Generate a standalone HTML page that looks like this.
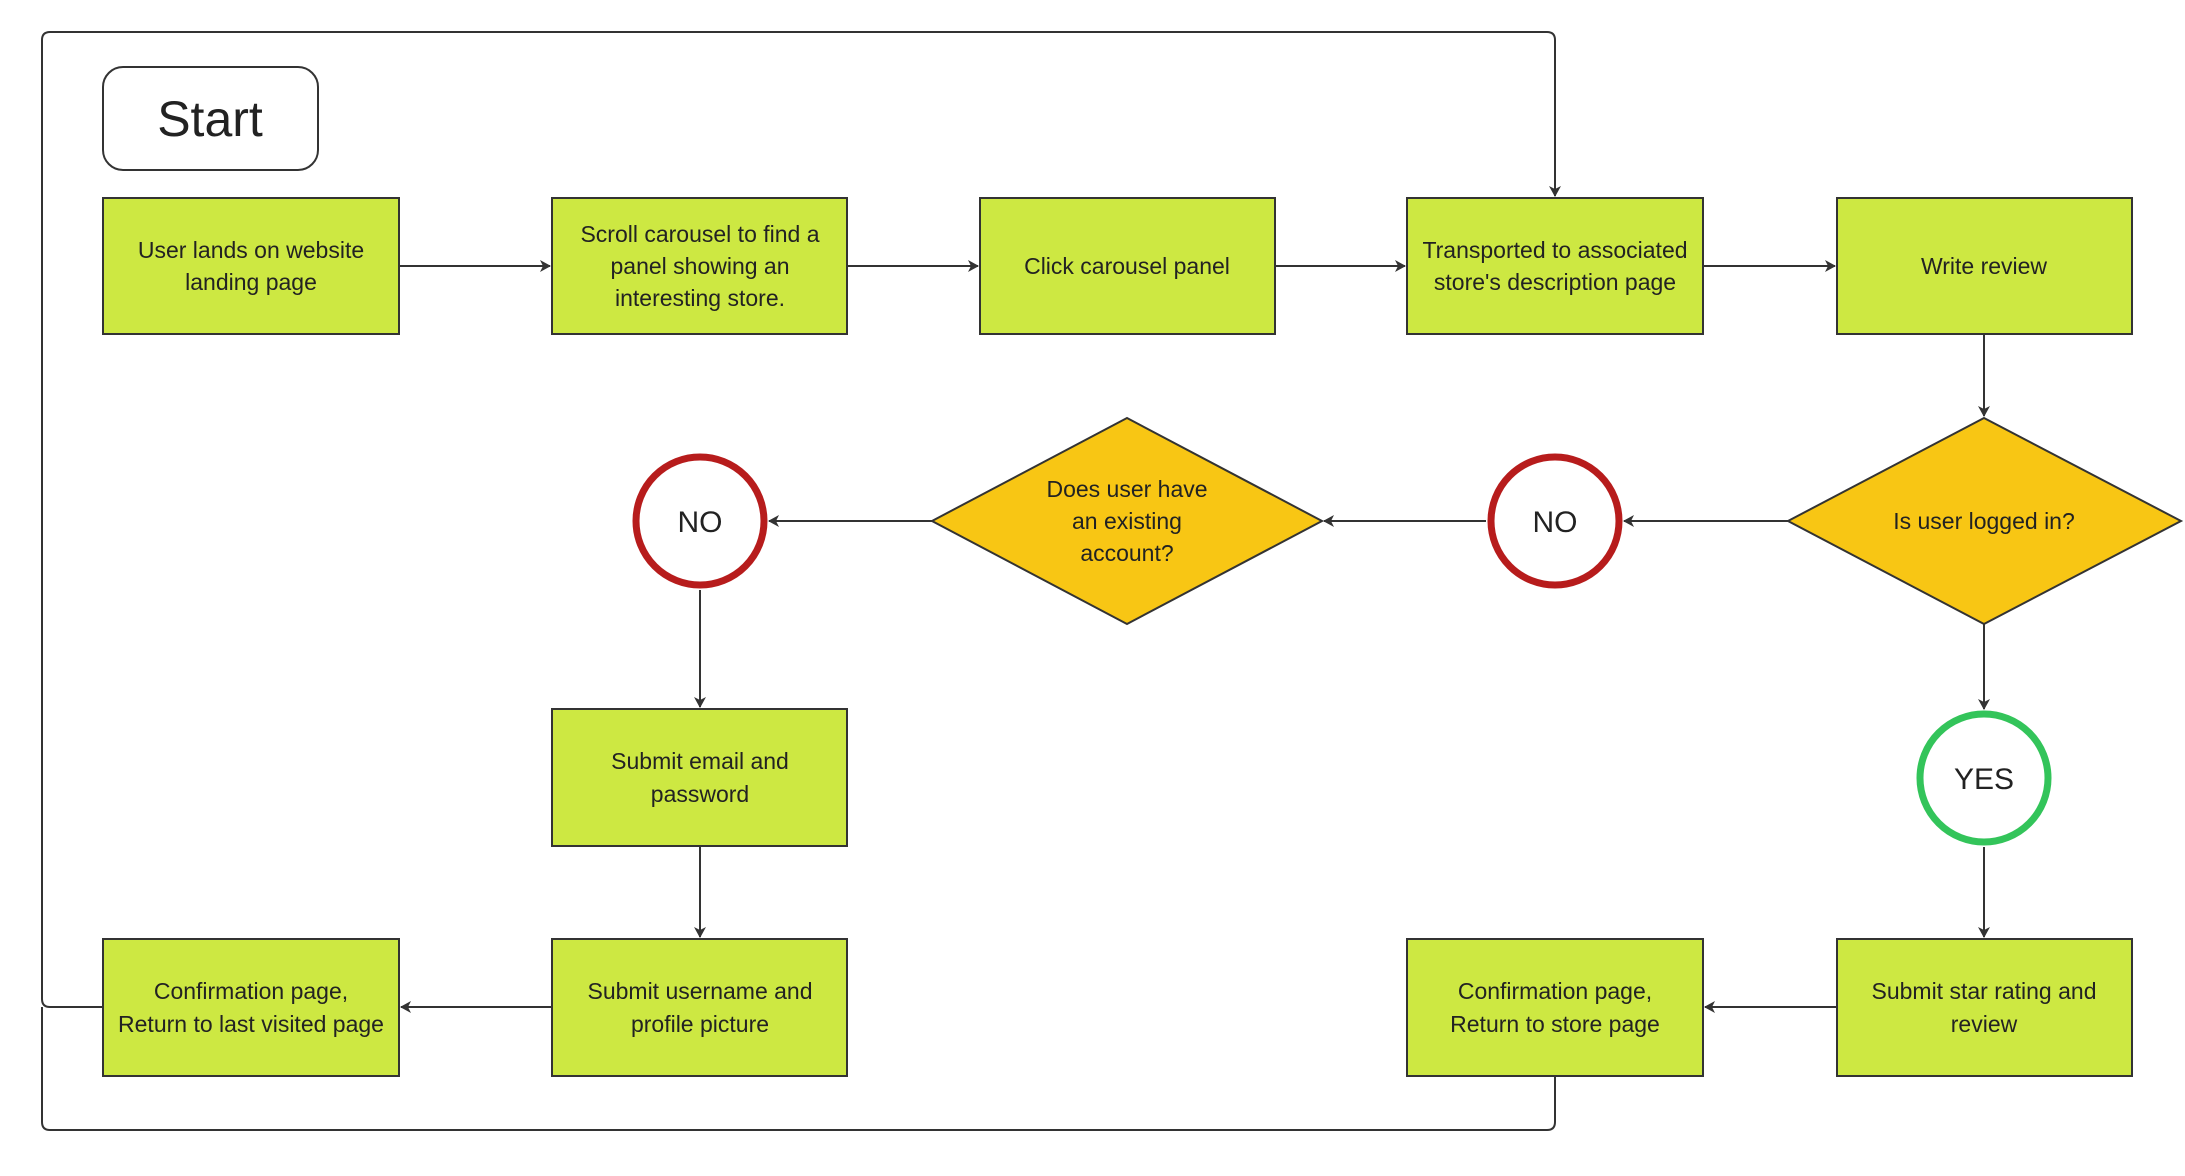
<!DOCTYPE html>
<html><head><meta charset="utf-8"><style>
body{margin:0;background:#fff}
svg text{font-family:"Liberation Sans",sans-serif;fill:#222}
</style></head><body>
<svg width="2185" height="1171" viewBox="0 0 2185 1171" xmlns="http://www.w3.org/2000/svg">
<defs><marker id="a" markerWidth="12" markerHeight="12" refX="10" refY="6" orient="auto" markerUnits="userSpaceOnUse"><path d="M0,0 L11,6 L0,12 L3,6 Z" fill="#333"/></marker></defs>
<g fill="none" stroke="#333" stroke-width="2">
<path d="M103,1007 H50 Q42,1007 42,999 V40 Q42,32 50,32 H1547 Q1555,32 1555,40 V196" marker-end="url(#a)"/>
<path d="M1555,1076 V1122 Q1555,1130 1547,1130 H50 Q42,1130 42,1122 V1007"/>
<path d="M399,266 H550" marker-end="url(#a)"/>
<path d="M847,266 H978" marker-end="url(#a)"/>
<path d="M1275,266 H1405" marker-end="url(#a)"/>
<path d="M1703,266 H1835" marker-end="url(#a)"/>
<path d="M1984,334 V416" marker-end="url(#a)"/>
<path d="M1788,521 H1624" marker-end="url(#a)"/>
<path d="M1486,521 H1324" marker-end="url(#a)"/>
<path d="M932,521 H769" marker-end="url(#a)"/>
<path d="M700,590 V707" marker-end="url(#a)"/>
<path d="M700,846 V937" marker-end="url(#a)"/>
<path d="M552,1007 H401" marker-end="url(#a)"/>
<path d="M1984,624 V709" marker-end="url(#a)"/>
<path d="M1984,847 V937" marker-end="url(#a)"/>
<path d="M1837,1007 H1705" marker-end="url(#a)"/>
</g>
<rect x="103" y="67" width="215" height="103" rx="20" fill="#fff" stroke="#333" stroke-width="2"/>
<text x="210" y="136" font-size="50" text-anchor="middle">Start</text>
<g fill="#cde842" stroke="#333" stroke-width="2">
<rect x="103" y="198" width="296" height="136"/>
<rect x="552" y="198" width="295" height="136"/>
<rect x="980" y="198" width="295" height="136"/>
<rect x="1407" y="198" width="296" height="136"/>
<rect x="1837" y="198" width="295" height="136"/>
<rect x="552" y="709" width="295" height="137"/>
<rect x="103" y="939" width="296" height="137"/>
<rect x="552" y="939" width="295" height="137"/>
<rect x="1407" y="939" width="296" height="137"/>
<rect x="1837" y="939" width="295" height="137"/>
</g>
<g fill="#f8c614" stroke="#333" stroke-width="2">
<polygon points="1788,521 1984,418 2181,521 1984,624"/>
<polygon points="932,521 1127,418 1322,521 1127,624"/>
</g>
<g fill="#fff" stroke-width="7">
<circle cx="1555" cy="521" r="64" stroke="#b71c1c"/>
<circle cx="700" cy="521" r="64" stroke="#b71c1c"/>
<circle cx="1984" cy="778" r="64" stroke="#33c45a"/>
</g>
<g font-size="23" text-anchor="middle">
<text x="251" y="258">User lands on website</text><text x="251" y="290">landing page</text>
<text x="700" y="242">Scroll carousel to find a</text><text x="700" y="274">panel showing an</text><text x="700" y="306">interesting store.</text>
<text x="1127" y="274">Click carousel panel</text>
<text x="1555" y="258">Transported to associated</text><text x="1555" y="290">store's description page</text>
<text x="1984" y="274">Write review</text>
<text x="1984" y="529">Is user logged in?</text>
<text x="1127" y="497">Does user have</text><text x="1127" y="529">an existing</text><text x="1127" y="561">account?</text>
<text x="700" y="769">Submit email and</text><text x="700" y="802">password</text>
<text x="700" y="999">Submit username and</text><text x="700" y="1032">profile picture</text>
<text x="251" y="999">Confirmation page,</text><text x="251" y="1032">Return to last visited page</text>
<text x="1555" y="999">Confirmation page,</text><text x="1555" y="1032">Return to store page</text>
<text x="1984" y="999">Submit star rating and</text><text x="1984" y="1032">review</text>
</g>
<g font-size="30" text-anchor="middle">
<text x="1555" y="532">NO</text><text x="700" y="532">NO</text><text x="1984" y="789">YES</text>
</g>
</svg>
</body></html>
